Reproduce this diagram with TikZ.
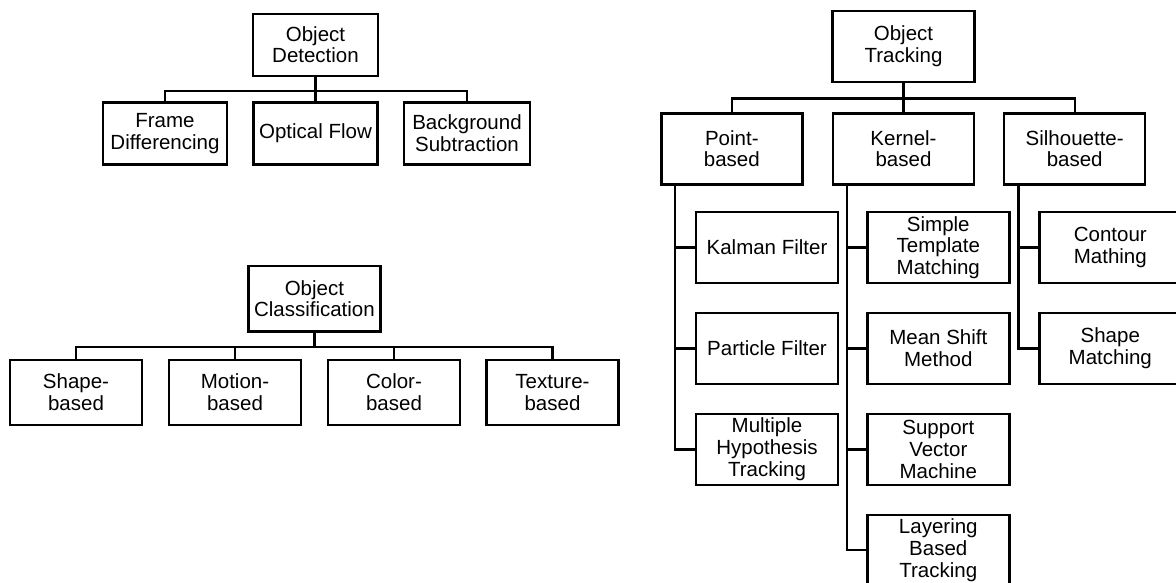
\documentclass[tikz,border=0pt]{standalone}
\usepackage{fontspec}
\setmainfont{Liberation Sans}
\newcommand\boxfont{\fontsize{20.5}{21.7}\selectfont}
\tikzset{
  box/.style={draw, line width=2.4pt, inner sep=0pt, align=center, font=\boxfont},
  detbox/.style={box, minimum width=124pt, minimum height=62pt},
  clsbox/.style={box, minimum width=132pt, minimum height=65.5pt},
  trkbox/.style={box, minimum width=142pt, minimum height=71pt},
  conn/.style={line width=2.4pt}
}
\begin{document}
\begin{tikzpicture}[x=1pt,y=-1pt]
\useasboundingbox (0,0) rectangle (1176,582);
\clip (0,0) rectangle (1176,582);
% ---------- Object Detection ----------
\node[detbox, minimum width=125pt] (OD) at (315.5,44.8) {Object\\Detection};
\node[detbox] (FD) at (165,133.4) {Frame\\Differencing};
\node[detbox] (OF) at (315.5,133.4) {Optical Flow};
\node[detbox, minimum width=126pt] (BS) at (467,133.4) {Background\\Subtraction};
\coordinate (dbus) at (315.5,90.8);
\draw[conn] (OD.south) -- (dbus);
\draw[conn] (FD.north) |- (dbus) -| (BS.north);
\draw[conn] (OF.north) -- (dbus);
% ---------- Object Classification ----------
\node[clsbox] (OC) at (314.4,298.8) {Object\\Classification};
\node[clsbox] (SB) at (76,392.5) {Shape-\\based};
\node[clsbox] (MB) at (235,392.5) {Motion-\\based};
\node[clsbox] (CB) at (394,392.5) {Color-\\based};
\node[clsbox] (TB) at (552.5,392.5) {Texture-\\based};
\coordinate (cbus) at (314.4,346.7);
\draw[conn] (OC.south) -- (cbus);
\draw[conn] (SB.north) |- (cbus) -| (TB.north);
\draw[conn] (MB.north) -- (MB.north |- cbus);
\draw[conn] (CB.north) -- (CB.north |- cbus);
% ---------- Object Tracking ----------
\node[trkbox] (OT) at (903.5,46.3) {Object\\Tracking};
\node[trkbox, minimum width=141pt] (PB) at (731.8,148.8) {Point-\\based};
\node[trkbox, minimum width=141pt] (KB) at (903.5,148.8) {Kernel-\\based};
\node[trkbox, minimum width=141pt] (SI) at (1074.7,148.8) {Silhouette-\\based};
\coordinate (tbus) at (903.5,98.5);
\draw[conn] (OT.south) -- (tbus);
\draw[conn] (PB.north) |- (tbus) -| (SI.north);
\draw[conn] (KB.north) -- (tbus);
% point-based children
\node[trkbox] (KF) at (767,247.5) {Kalman Filter};
\node[trkbox] (PF) at (767,348.4) {Particle Filter};
\node[trkbox] (MH) at (767,449.3) {Multiple\\Hypothesis\\Tracking};
\coordinate (pt) at (675.2,184.3);
\draw[conn] (pt) |- (MH.west);
\draw[conn] (pt |- KF.west) -- (KF.west);
\draw[conn] (pt |- PF.west) -- (PF.west);
% kernel-based children
\node[trkbox] (ST) at (938.3,247.5) {Simple\\Template\\Matching};
\node[trkbox] (MS) at (938.3,348.4) {Mean Shift\\Method};
\node[trkbox] (SV) at (938.3,449.3) {Support\\Vector\\Machine};
\node[trkbox] (LB) at (938.3,550.2) {Layering\\Based\\Tracking};
\coordinate (kt) at (847,184.3);
\draw[conn] (kt) |- (LB.west);
\draw[conn] (kt |- ST.west) -- (ST.west);
\draw[conn] (kt |- MS.west) -- (MS.west);
\draw[conn] (kt |- SV.west) -- (SV.west);
% silhouette-based children
\node[trkbox] (CM) at (1110.3,247.5) {Contour\\Mathing};
\node[trkbox] (SM) at (1110.3,348.4) {Shape\\Matching};
\coordinate (st) at (1018.5,184.3);
\draw[conn] (st) |- (SM.west);
\draw[conn] (st |- CM.west) -- (CM.west);
\end{tikzpicture}
\end{document}
